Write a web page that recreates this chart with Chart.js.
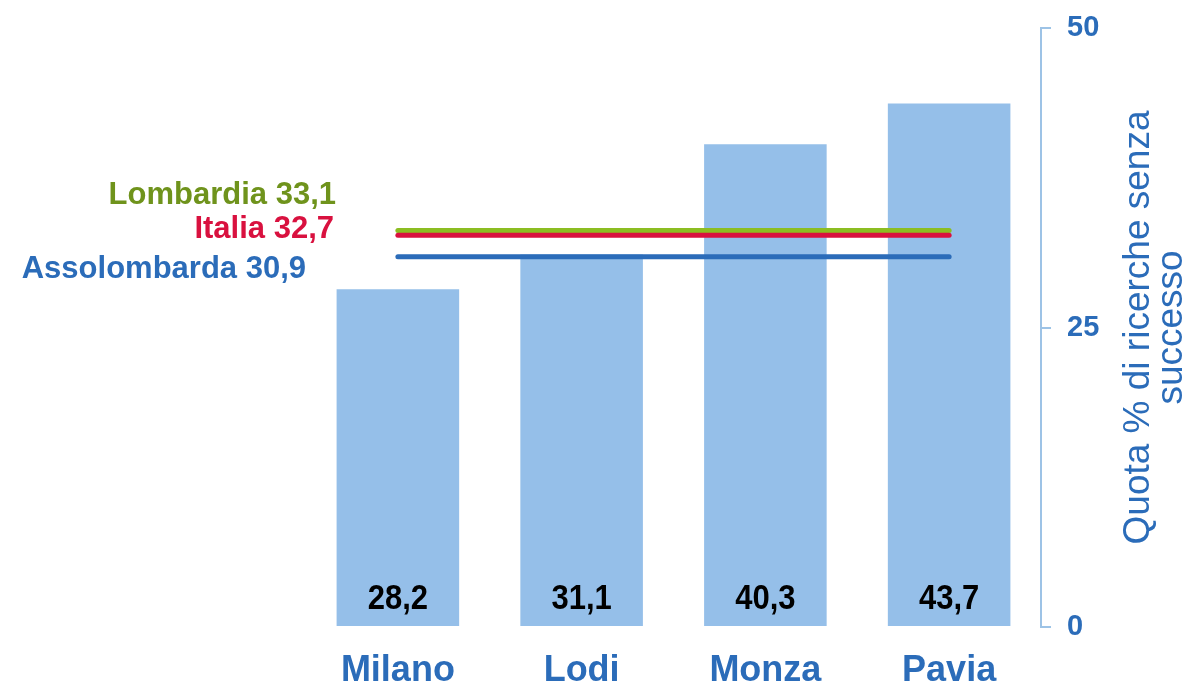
<!DOCTYPE html>
<html>
<head>
<meta charset="utf-8">
<script src="https://cdn.jsdelivr.net/npm/chart.js@4.4.1/dist/chart.umd.min.js"></script>
<style>
    html, body { margin: 0; padding: 0; background: #ffffff; }
    #wrap { width: 1194px; height: 686px; position: relative; }
</style>
</head>
<body>
<div id="wrap"><canvas id="myChart"></canvas></div>
<script>
'use strict';

var province = ['Milano', 'Lodi', 'Monza', 'Pavia'];
var quota = [28.2, 31.1, 40.3, 43.7];
var lombardia = [33.1, 33.1, 33.1, 33.1];
var italia = [32.7, 32.7, 32.7, 32.7];
var assolombarda = [30.9, 30.9, 30.9, 30.9];
var yTicks = [0, 25, 50];

var blue = '#2b6cb9';
var font = "'Liberation Sans', Arial, sans-serif";

function fmt(v) {
    return v.toFixed(1).replace('.', ',');
}

// labels on the left, next to the reference lines
var refLabels = [
    { text: 'Lombardia ' + fmt(lombardia[0]), value: lombardia[0], color: '#6f931c', x: 336, dy: -35 },
    { text: 'Italia ' + fmt(italia[0]), value: italia[0], color: '#d9113f', x: 334, dy: -6 },
    { text: 'Assolombarda ' + fmt(assolombarda[0]), value: assolombarda[0], color: blue, x: 306, dy: 13 }
];

var extrasPlugin = {
    id: 'extras',
    afterDatasetsDraw: function (chart) {
        var ctx = chart.ctx;
        var meta = chart.getDatasetMeta(0);
        ctx.fillStyle = '#000000';
        ctx.font = 'bold 31px ' + font;
        ctx.textAlign = 'center';
        ctx.textBaseline = 'middle';
        meta.data.forEach(function (bar, i) {
            ctx.save();
            ctx.translate(bar.x, bar.base - 27);
            ctx.scale(1, 1.15);
            ctx.fillText(fmt(quota[i]), 0, 0);
            ctx.restore();
        });
    },
    afterDraw: function (chart) {
        var ctx = chart.ctx;
        var y = chart.scales.y;
        var area = chart.chartArea;
        ctx.save();
        ctx.font = 'bold 31px ' + font;
        ctx.textAlign = 'right';
        ctx.textBaseline = 'middle';
        refLabels.forEach(function (l) {
            ctx.fillStyle = l.color;
            ctx.fillText(l.text, l.x, y.getPixelForValue(l.value) + l.dy);
        });

        // axis title, reading bottom to top
        ctx.translate(area.right, (area.top + area.bottom) / 2);
        ctx.rotate(-Math.PI / 2);
        ctx.fillStyle = blue;
        ctx.font = '37px ' + font;
        ctx.textAlign = 'center';
        ctx.textBaseline = 'alphabetic';
        ctx.fillText('Quota % di ricerche senza', 0, 108);
        ctx.fillText('successo', 0, 141);
        ctx.restore();
    }
};

var ctx = document.getElementById('myChart');
var myChart = new Chart(ctx, {
    type: 'bar',
    data: {
        labels: province,
        datasets: [{
                type: 'bar',
                data: quota,
                backgroundColor: '#95bfe9',
                barPercentage: 0.667,
                categoryPercentage: 1,
                order: 4
            }, {
                type: 'line',
                data: assolombarda,
                borderColor: blue,
                borderWidth: 5,
                borderCapStyle: 'round',
                pointRadius: 0,
                fill: false,
                order: 3
            }, {
                type: 'line',
                data: lombardia,
                borderColor: '#8cbd22',
                borderWidth: 5,
                borderCapStyle: 'round',
                pointRadius: 0,
                fill: false,
                order: 2
            }, {
                type: 'line',
                data: italia,
                borderColor: '#d9113f',
                borderWidth: 5,
                borderCapStyle: 'round',
                pointRadius: 0,
                fill: false,
                order: 1
            }
        ]
    },
    options: {
        responsive: true,
        maintainAspectRatio: false,
        animation: false,
        layout: {
            padding: { left: 306, top: 28, right: 0, bottom: 0 }
        },
        plugins: {
            legend: { display: false },
            tooltip: { enabled: false }
        },
        scales: {
            x: {
                grid: { display: false, drawTicks: false },
                border: { display: false },
                ticks: {
                    color: blue,
                    font: { family: font, size: 36, weight: 'bold' },
                    padding: 22,
                    maxRotation: 0
                },
                afterFit: function (s) { s.height = 59; }
            },
            y: {
                position: 'right',
                min: 0,
                max: 50,
                grid: {
                    drawOnChartArea: false,
                    drawTicks: true,
                    tickLength: 10,
                    color: '#9dc3e6',
                    lineWidth: 2
                },
                border: { display: true, color: '#9dc3e6', width: 2 },
                afterBuildTicks: function (s) {
                    s.ticks = yTicks.map(function (v) { return { value: v }; });
                },
                ticks: {
                    color: blue,
                    font: { family: font, size: 29, weight: 'bold' },
                    padding: 16
                },
                afterFit: function (s) {
                    s.width = 153;
                    s.paddingTop = 0;
                    s.paddingBottom = 0;
                }
            }
        }
    },
    plugins: [extrasPlugin]
});
</script>
</body>
</html>
